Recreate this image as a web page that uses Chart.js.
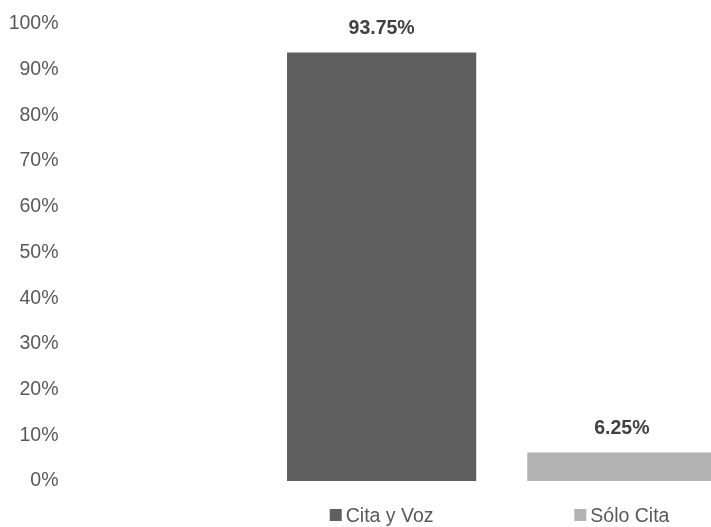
<!DOCTYPE html>
<html>
<head>
<meta charset="utf-8">
<script src="https://cdn.jsdelivr.net/npm/chart.js@4/dist/chart.umd.min.js"></script>
<style>
  html, body { margin: 0; padding: 0; background: #ffffff; overflow: hidden; }
  #wrap { width: 711px; height: 527px; overflow: hidden; position: relative; }
  #inner { width: 742px; height: 527px; position: absolute; left: 0; top: 0; }
</style>
</head>
<body>
<div id="wrap"><div id="inner"><canvas id="c" width="742" height="527"></canvas></div></div>
<script>
const categories = ['Cita y Voz', 'Sólo Cita'];
const values = [93.75, 6.25];
const valueLabels = ['93.75%', '6.25%'];
const barColors = ['#5f5f5f', '#b2b2b2'];
const yTickValues = [0, 10, 20, 30, 40, 50, 60, 70, 80, 90, 100];

const FONT = "'Liberation Sans', Arial, sans-serif";
const FS = 19.5;

const labelPlugin = {
  id: 'valueLabels',
  afterDatasetsDraw(chart) {
    const ctx = chart.ctx;
    const meta = chart.getDatasetMeta(0);
    ctx.save();
    ctx.font = 'bold ' + FS + 'px ' + FONT;
    ctx.fillStyle = '#404040';
    ctx.textAlign = 'center';
    ctx.textBaseline = 'alphabetic';
    meta.data.forEach((bar, i) => {
      ctx.fillText(valueLabels[i], bar.x, bar.y - 18.5);
    });
    ctx.restore();
  },
  afterDraw(chart) {
    const ctx = chart.ctx;
    const xs = chart.scales.x;
    ctx.save();
    ctx.font = FS + 'px ' + FONT;
    ctx.textBaseline = 'alphabetic';
    ctx.textAlign = 'left';
    const box = 12, gap = 4, baseY = 522;
    categories.forEach((cat, i) => {
      const cx = xs.getPixelForValue(i);
      const tw = ctx.measureText(cat).width;
      const total = box + gap + tw;
      const start = cx - total / 2;
      ctx.fillStyle = barColors[i];
      ctx.fillRect(start, baseY - 13, box, box);
      ctx.fillStyle = '#595959';
      ctx.fillText(cat, start + box + gap, baseY);
    });
    ctx.restore();
  }
};

new Chart(document.getElementById('c'), {
  type: 'bar',
  data: {
    labels: categories,
    datasets: [{
      data: values,
      backgroundColor: barColors,
      borderWidth: 0,
      categoryPercentage: 1.0,
      barPercentage: 0.7875
    }]
  },
  options: {
    responsive: false,
    animation: false,
    layout: { padding: { left: 0, right: 0, top: 24, bottom: 46 } },
    plugins: { legend: { display: false }, tooltip: { enabled: false } },
    scales: {
      x: {
        type: 'category',
        display: false,
        offset: true,
        grid: { display: false }
      },
      y: {
        min: 0,
        max: 100,
        afterBuildTicks(scale) { scale.ticks = yTickValues.map(v => ({ value: v })); },
        afterFit(scale) {
          scale.width = 261.5;
          scale.paddingTop = 0;
          scale.paddingBottom = 0;
        },
        grid: { display: false, drawTicks: false },
        border: { display: false },
        ticks: {
          padding: 203,
          color: '#595959',
          font: { family: FONT, size: FS },
          callback: v => v + '%'
        }
      }
    }
  },
  plugins: [labelPlugin]
});
</script>
</body>
</html>
